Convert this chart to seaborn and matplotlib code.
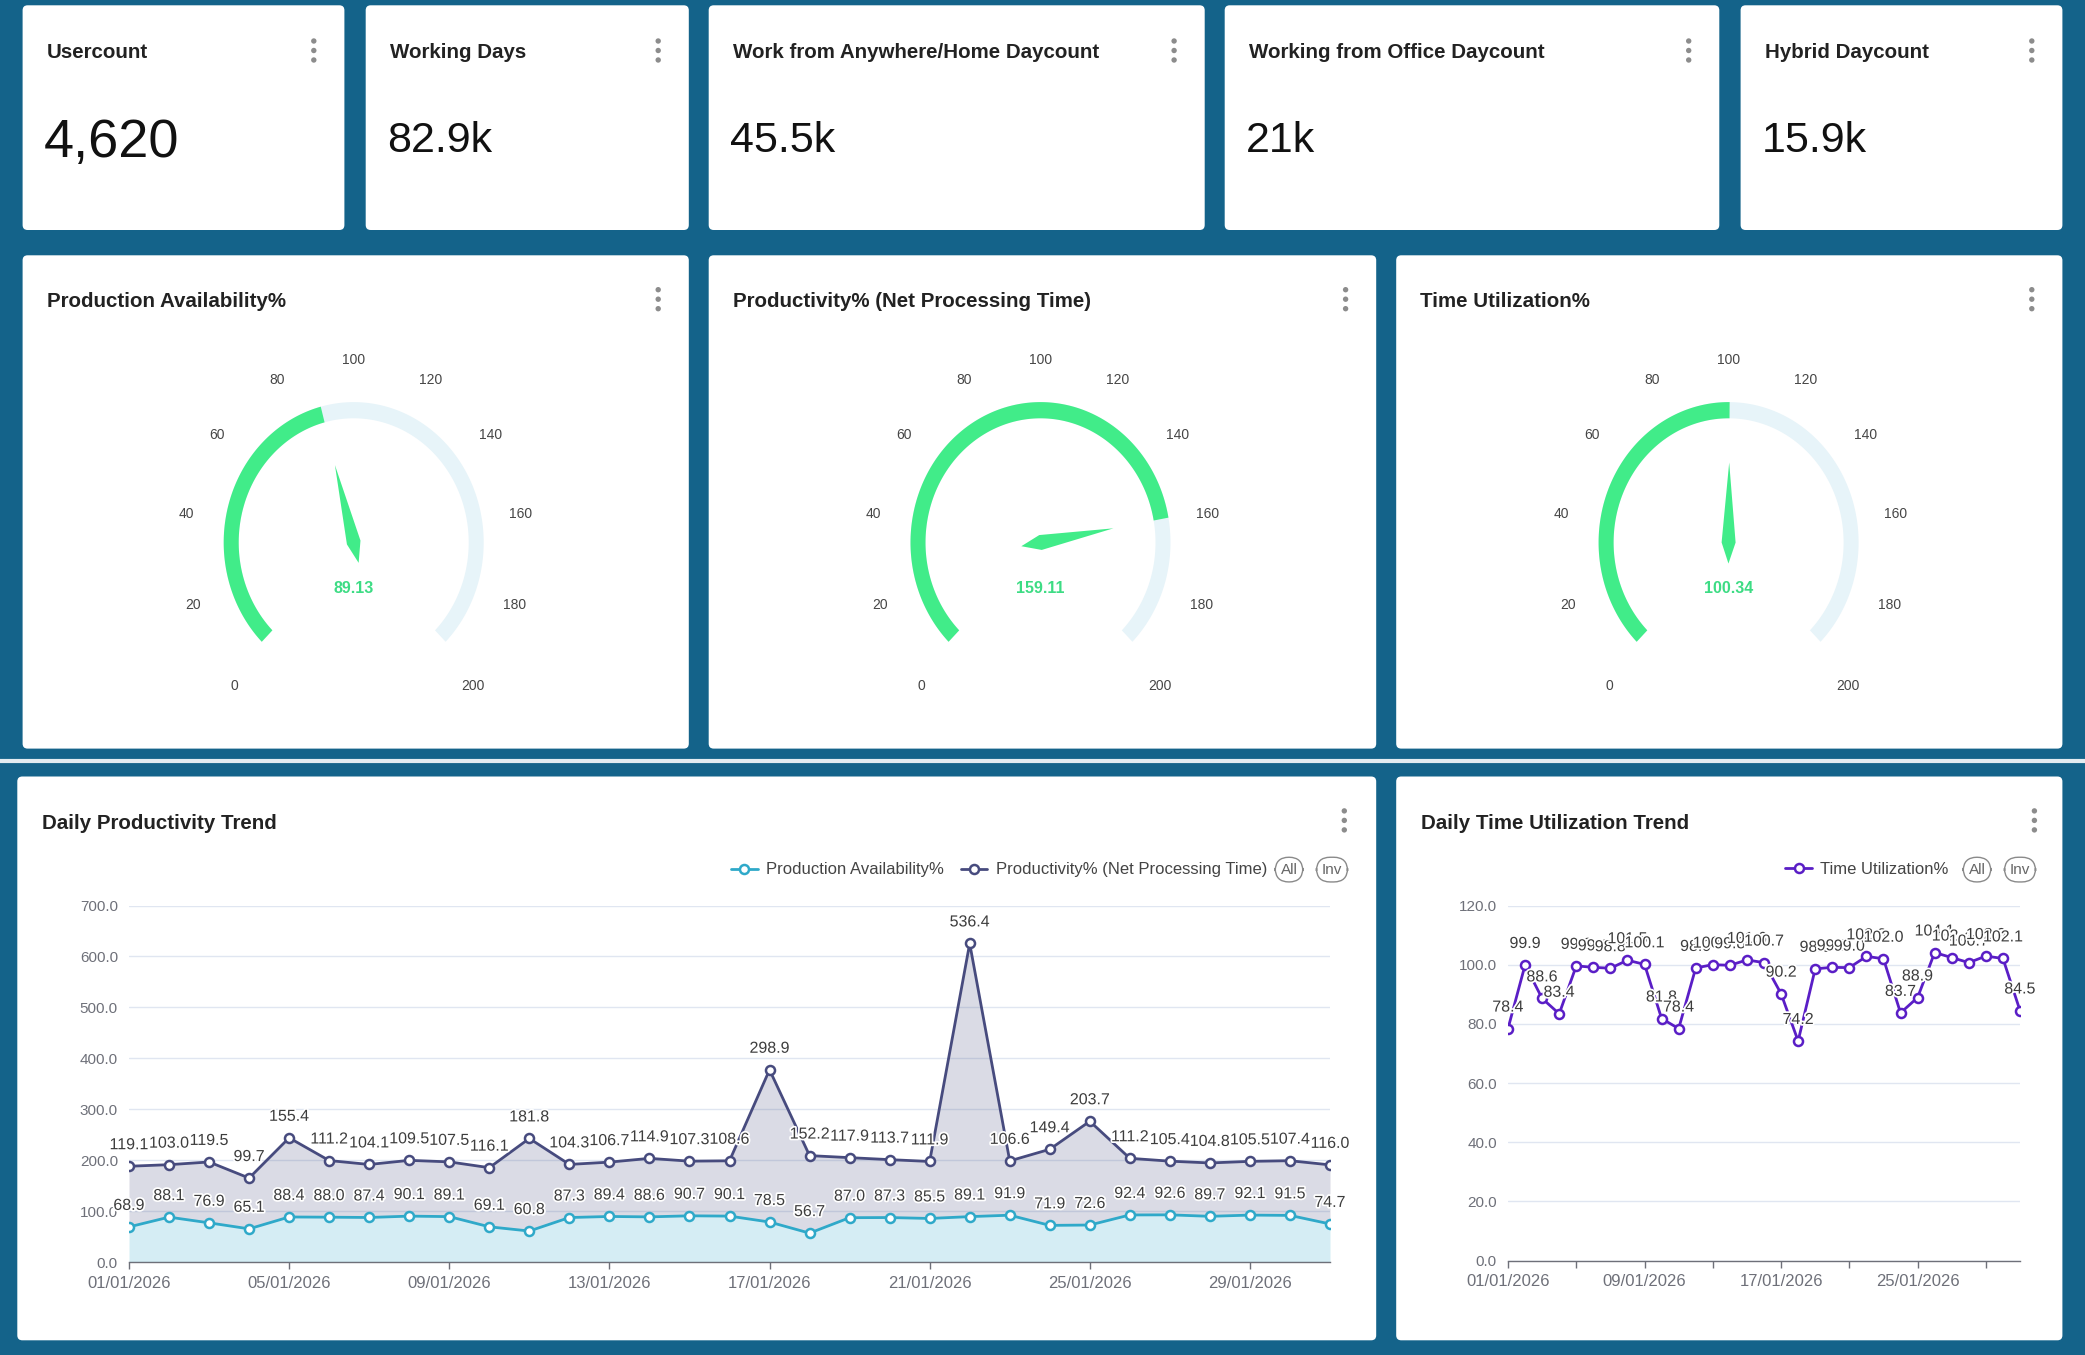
import numpy as np
import pandas as pd
import matplotlib.pyplot as plt
import matplotlib.patheffects as pe
import seaborn as sns
from matplotlib.patches import FancyBboxPatch, Polygon, Circle

sns.set_style('white')
plt.rcParams['font.family'] = ['Liberation Sans', 'DejaVu Sans']
TITLE_FONT = ['Liberation Sans', 'DejaVu Sans']

# ---------------- data ----------------
kpi_titles = ['Usercount', 'Working Days', 'Work from Anywhere/Home Daycount',
              'Working from Office Daycount', 'Hybrid Daycount']
kpi_values = ['4,620', '82.9k', '45.5k', '21k', '15.9k']

gauge_titles = ['Production Availability%', 'Productivity% (Net Processing Time)', 'Time Utilization%']
gauge_values = [89.13, 159.11, 100.34]
gauge_ticks = list(range(0, 201, 20))

dates = pd.date_range('2026-01-01', '2026-01-31').strftime('%d/%m/%Y').tolist()
prod_avail = [68.9, 88.1, 76.9, 65.1, 88.4, 88.0, 87.4, 90.1, 89.1, 69.1, 60.8,
              87.3, 89.4, 88.6, 90.7, 90.1, 78.5, 56.7, 87.0, 87.3, 85.5, 89.1,
              91.9, 71.9, 72.6, 92.4, 92.6, 89.7, 92.1, 91.5, 74.7]
productivity = [119.1, 103.0, 119.5, 99.7, 155.4, 111.2, 104.1, 109.5, 107.5, 116.1, 181.8,
                104.3, 106.7, 114.9, 107.3, 108.6, 298.9, 152.2, 117.9, 113.7, 111.9, 536.4,
                106.6, 149.4, 203.7, 111.2, 105.4, 104.8, 105.5, 107.4, 116.0]
time_util = [78.4, 99.9, 88.6, 83.4, 99.6, 99.1, 98.8, 101.5, 100.1, 81.8, 78.4,
             98.9, 100.0, 99.8, 101.6, 100.7, 90.2, 74.2, 98.6, 99.1, 99.0, 102.8,
             102.0, 83.7, 88.9, 104.1, 102.4, 100.7, 102.9, 102.1, 84.5]

# ---------------- style ----------------
W, H = 2085, 1355
BG = '#14638a'
GREEN = '#41ec89'
TRACK = '#e7f4f9'
C_AVAIL = '#2fa9c9'
C_PROD = '#474b7e'
C_UTIL = '#5a1ec6'
AXIS_C = '#6e7079'

fig = plt.figure(figsize=(W / 100, H / 100), dpi=100, facecolor=BG)
bg = fig.add_axes([0, 0, 1, 1])
bg.set_xlim(0, W)
bg.set_ylim(H, 0)
bg.axis('off')


def card(x0, y0, x1, y1):
    bg.add_patch(FancyBboxPatch((x0, y0), x1 - x0, y1 - y0,
                                boxstyle='round,pad=0,rounding_size=5', fc='white', ec='none'))


def kebab(x, y):
    for dy in (-9.5, 0, 9.5):
        bg.add_patch(Circle((x, y + dy), 2.7, fc='#8c8c8c', ec='none'))


def title(x, y, s):
    bg.text(x, y, s, fontsize=14.8, fontweight='bold', family=TITLE_FONT,
            color='#222222', va='baseline', ha='left')


# separator line
bg.plot([0, W], [761, 761], color='#e3ecf1', lw=3)

# KPI cards
kpi_boxes = [(22.6, 365.7, 708.7, 1224.7, 1740.6), (344.4, 688.8, 1204.7, 1719.3, 2062.4)]
for i, (t, v) in enumerate(zip(kpi_titles, kpi_values)):
    x0, x1 = kpi_boxes[0][i], kpi_boxes[1][i]
    card(x0, 5.3, x1, 230)
    title(x0 + 24, 58.3, t)
    kebab(x1 - 30.6, 50.5)
    big = i == 0
    bg.text(x0 + (21 if big else 21.5), 156.7 if big else 152, v,
            fontsize=39 if big else 31, color='#111111', va='baseline', ha='left')

# gauge cards
SY = 1.08
gauge_cards = [(22.6, 688.8), (708.7, 1376.2), (1396.2, 2062.4)]
gauge_cx = [353.7, 1040.5, 1728.6]
GCY = 542.5


def gauge(cx, cy, value):
    ro, ri = 130, 115

    def ang(v):
        return np.radians(225 - v / 200 * 270)

    def xy(r, a):
        return cx + r * np.cos(a), cy - SY * r * np.sin(a)

    def band(v0, v1, color):
        th = np.linspace(ang(v0), ang(v1), 200)
        ox, oy = xy(ro, th)
        ix, iy = xy(ri, th[::-1])
        bg.add_patch(Polygon(np.column_stack([np.r_[ox, ix], np.r_[oy, iy]]),
                             closed=True, fc=color, ec='none'))

    band(0, 200, TRACK)
    band(0, min(value, 200), GREEN)
    for t in gauge_ticks:
        a = ang(t)
        x, y = xy(169, a)
        if np.sin(a) < -0.5:
            y += 14
        elif np.sin(a) < 0:
            y += 6
        bg.text(x, y, str(t), ha='center', va='center', fontsize=10, color='#464646')
    a = ang(value)
    tip = xy(0.57 * ro, a)
    tail = xy(-0.15 * ro, a)
    s1 = xy(7, a + np.pi / 2)
    s2 = xy(7, a - np.pi / 2)
    bg.add_patch(Polygon([tip, s1, tail, s2], closed=True, fc=GREEN, ec='none'))
    bg.text(cx, cy + 46, f'{value:.2f}', ha='center', va='center', fontsize=11.5,
            fontweight='bold', color='#3ddc84')


for (x0, x1), cx, t, v in zip(gauge_cards, gauge_cx, gauge_titles, gauge_values):
    card(x0, 255.3, x1, 748.6)
    title(x0 + 24, 307.3, t)
    kebab(x1 - 30.6, 299.2)
    gauge(cx, GCY, v)

# bottom cards
card(17.3, 776.5, 1376.2, 1340.3)
card(1396.2, 776.5, 2062.4, 1340.3)
title(42.5, 829, 'Daily Productivity Trend')
title(1421.4, 829, 'Daily Time Utilization Trend')
kebab(1344.3, 820.4)
kebab(2034.4, 820.4)


def badge(x, y, s):
    bg.text(x, y, s, ha='center', va='center', fontsize=11, color='#666666',
            bbox=dict(boxstyle='round,pad=0.35,rounding_size=0.9', fc='white', ec='#8a8a8a', lw=1))


badge(1289, 869.6, 'All')
badge(1332, 869.6, 'Inv')
badge(1977, 869.6, 'All')
badge(2020, 869.6, 'Inv')


def chart_axes(x0, y0, x1, y1):
    ax = fig.add_axes([x0 / W, 1 - y1 / H, (x1 - x0) / W, (y1 - y0) / H])
    ax.set_facecolor('none')
    return ax


def style(ax, ymax, ystep):
    ax.set_xlim(0, 30)
    ax.set_ylim(0, ymax)
    ax.set_yticks(np.arange(0, ymax + 1, ystep))
    ax.yaxis.set_major_formatter('{x:.1f}')
    ax.set_axisbelow(True)
    ax.grid(axis='y', color='#e0e6f1', lw=1)
    ax.grid(axis='x', visible=False)
    for s in ['top', 'right', 'left']:
        ax.spines[s].set_visible(False)
    ax.spines['bottom'].set_color(AXIS_C)
    ax.spines['bottom'].set_linewidth(1)
    ax.tick_params(axis='y', length=0, pad=8, labelsize=11, labelcolor=AXIS_C)
    ax.tick_params(axis='x', bottom=True, length=5, width=1, color=AXIS_C, pad=5,
                   labelsize=12, labelcolor=AXIS_C, direction='out')
    ax.set_xlabel('')
    ax.set_ylabel('')


def labels(ax, xs, ys, vals):
    for x, y, v in zip(xs, ys, vals):
        ax.annotate(f'{v:.1f}', (x, y), xytext=(0, 15.5), textcoords='offset points',
                    ha='center', va='center', fontsize=11.5, color='#3d3d3d', annotation_clip=False,
                    path_effects=[pe.withStroke(linewidth=2.5, foreground='white')])


# ---------- daily productivity trend (stacked) ----------
df = pd.DataFrame({'day': np.arange(len(dates)), 'date': dates,
                   'avail': prod_avail, 'prod': productivity})
df['stack'] = df['avail'] + df['prod']

ax1 = chart_axes(129, 905.5, 1330, 1262)
ax1.fill_between(df['day'], 0, df['avail'], color=C_AVAIL, alpha=0.2, lw=0)
ax1.fill_between(df['day'], df['avail'], df['stack'], color=C_PROD, alpha=0.2, lw=0)
mk = dict(marker='o', markersize=6.5, markerfacecolor='white', markeredgewidth=1.8, linewidth=2)
sns.lineplot(data=df, x='day', y='avail', ax=ax1, color=C_AVAIL, markeredgecolor=C_AVAIL,
             label='Production Availability%', **mk)
sns.lineplot(data=df, x='day', y='stack', ax=ax1, color=C_PROD, markeredgecolor=C_PROD,
             label='Productivity% (Net Processing Time)', **mk)
style(ax1, 700, 100)
ax1.set_xticks(df['day'][::4])
ax1.set_xticklabels(df['date'][::4])
labels(ax1, df['day'], df['avail'], df['avail'])
labels(ax1, df['day'], df['stack'], df['prod'])
ax1.legend(loc='center right', bbox_to_anchor=(0.96, 1.10), ncol=2, frameon=False, fontsize=12,
           handlelength=1.6, handletextpad=0.5, columnspacing=1.0, labelcolor='#444444')

# ---------- daily time utilization trend ----------
du = pd.DataFrame({'day': np.arange(len(dates)), 'date': dates, 'util': time_util})
ax2 = chart_axes(1508, 905.5, 2020, 1260.6)
sns.lineplot(data=du, x='day', y='util', ax=ax2, color=C_UTIL, markeredgecolor=C_UTIL,
             label='Time Utilization%', **mk)
style(ax2, 120, 20)
ax2.set_xticks(du['day'][::4])
ax2.set_xticklabels([d if i % 8 == 0 else '' for i, d in zip(du['day'][::4], du['date'][::4])])
labels(ax2, du['day'], du['util'], du['util'])
ax2.legend(loc='center right', bbox_to_anchor=(0.89, 1.101), ncol=1, frameon=False, fontsize=12,
           handlelength=1.6, handletextpad=0.5, labelcolor='#444444')

fig.savefig('out.png', dpi=100, facecolor=BG)
